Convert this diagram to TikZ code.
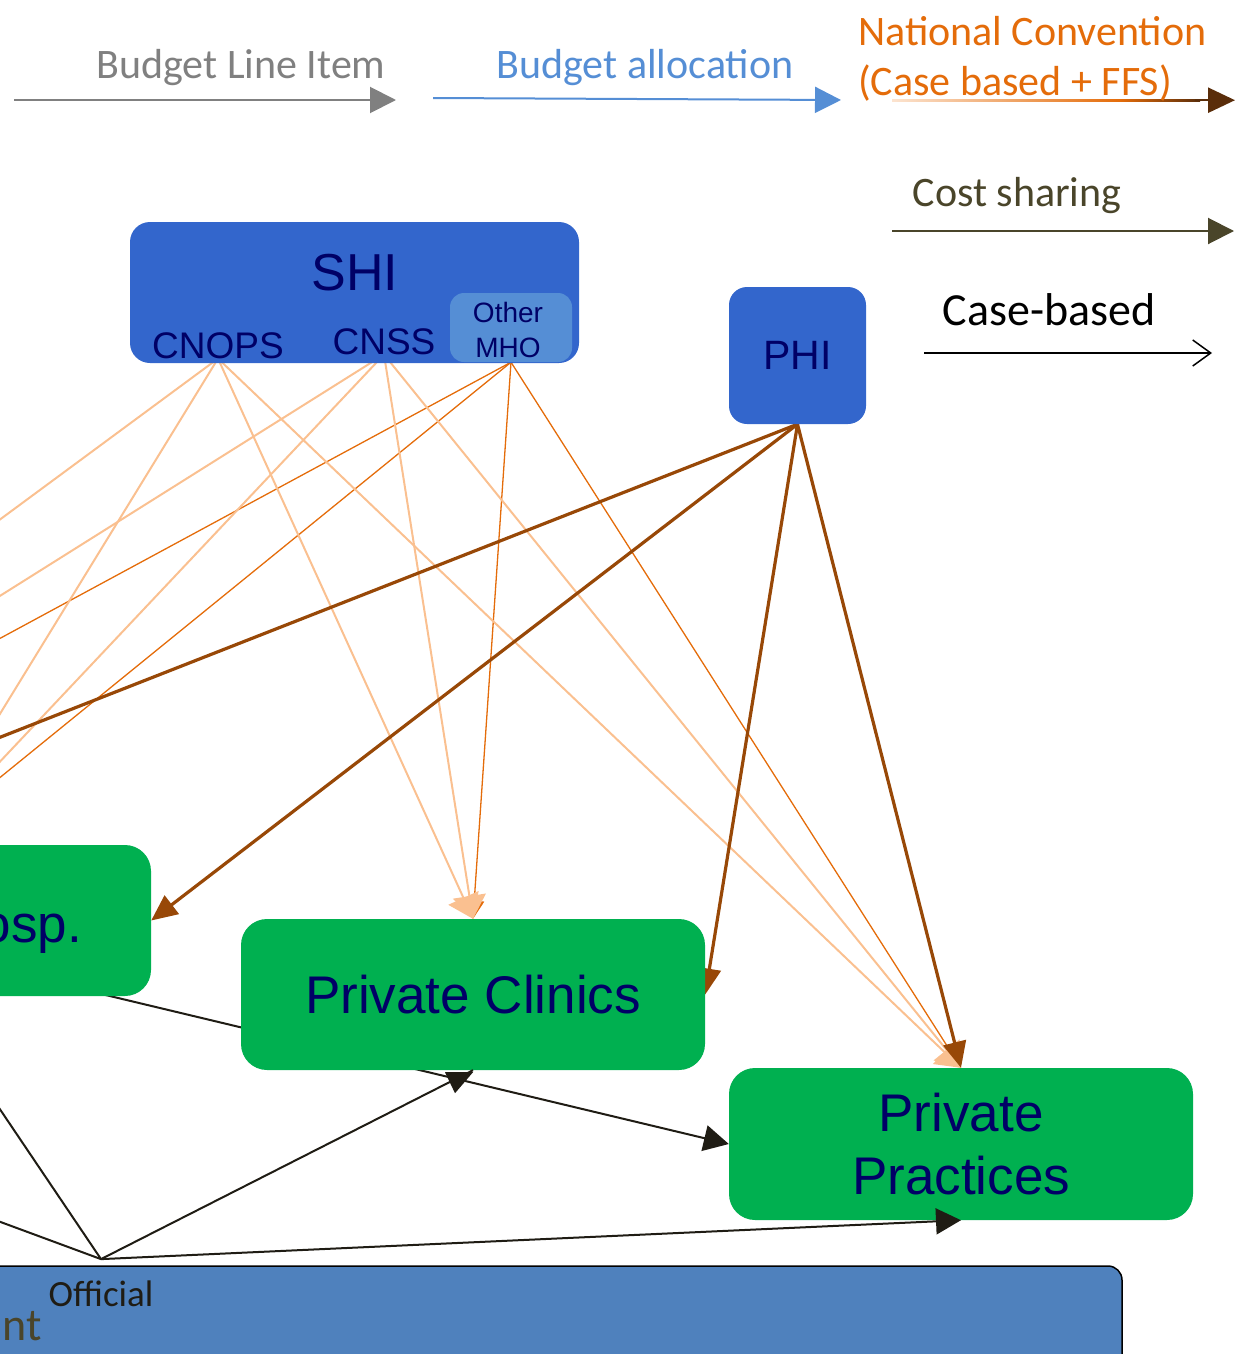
\documentclass[tikz,border=0pt]{standalone}
\usepackage{fontspec}
\setmainfont{Carlito}
\newfontfamily\arialfont{Liberation Sans}
\usetikzlibrary{arrows.meta,backgrounds}

\definecolor{shiblue}{HTML}{3366CC}
\definecolor{mhoblue}{HTML}{558ED5}
\definecolor{navytext}{HTML}{000066}
\definecolor{provgreen}{HTML}{00B050}
\definecolor{govblue}{HTML}{4F81BD}
\definecolor{peach}{HTML}{FAC090}
\definecolor{peachlight}{HTML}{FCE4D0}
\definecolor{convorange}{HTML}{E46C0A}
\definecolor{phibrown}{HTML}{984807}
\definecolor{darkbrown}{HTML}{5A2D0A}
\definecolor{olivetext}{HTML}{4A452A}
\definecolor{legendgray}{HTML}{808080}
\definecolor{legendblue}{HTML}{558ED5}
\definecolor{inkblack}{HTML}{1F1C14}

\tikzset{
  payer/.style={fill=shiblue, rounded corners=20pt, inner sep=0pt},
  provider/.style={fill=provgreen, rounded corners=26pt, inner sep=0pt,
    text=navytext, font=\arialfont\fontsize{53}{63}\selectfont, align=center},
  arialtxt/.style={text=navytext, inner sep=0pt, font=\arialfont\fontsize{#1}{#1}\selectfont},
  calibritxt/.style={inner sep=0pt, font=\fontsize{#1}{#1}\selectfont},
  shiline/.style={peach, line width=2pt},
  mholine/.style={convorange, line width=1.3pt},
  philine/.style={phibrown, line width=3.2pt},
  inkline/.style={inkblack, line width=2pt},
  shitip/.style={-{Triangle[length=23pt,width=33pt]}},
  mhotip/.style={-{Triangle[length=18pt,width=20pt]}},
  phitip/.style={-{Triangle[length=26pt,width=23pt]}},
  inktip/.style={-{Triangle[length=25pt,width=26pt]}},
}

\begin{document}
\begin{tikzpicture}[x=1pt,y=-1pt]
\useasboundingbox (0,0) rectangle (1235,1354);

% ---------- legend ----------
\coordinate (lgA1) at (14,100);  \coordinate (lgA2) at (396,100);
\draw[legendgray, line width=2pt, -{Triangle[length=26pt,width=26pt]}] (lgA1) -- (lgA2);
\node[calibritxt=42, text=legendgray, anchor=base] (lgA) at (241,78) {Budget Line Item};

\coordinate (lgB1) at (433,98);  \coordinate (lgB2) at (841,100);
\draw[legendblue, line width=2pt, -{Triangle[length=26pt,width=26pt]}] (lgB1) -- (lgB2);
\node[calibritxt=42, text=legendblue, anchor=base] (lgB) at (645,78) {Budget allocation};

\shade[left color=peachlight, right color=convorange] (892,99) rectangle (1120,101.5);
\shade[left color=convorange, right color=darkbrown] (1120,99) rectangle (1200,101.5);
\coordinate (lgC1) at (1195,100.2); \coordinate (lgC2) at (1235,100.2);
\draw[darkbrown, line width=2.5pt, -{Triangle[length=27pt,width=25pt]}] (lgC1) -- (lgC2);
\node[calibritxt=42, text=convorange, anchor=north west, align=left,
      font=\fontsize{42}{50}\selectfont] (lgC) at (858,16) {National Convention\\(Case based + FFS)};

\coordinate (lgD1) at (892,231); \coordinate (lgD2) at (1234,231);
\draw[olivetext, line width=2pt, -{Triangle[length=26pt,width=26pt]}] (lgD1) -- (lgD2);
\node[calibritxt=42, text=olivetext, anchor=base] (lgD) at (1017,206) {Cost sharing};

\coordinate (lgE1) at (924,353); \coordinate (lgE2) at (1212,353);
\draw[black, line width=1.5pt, -{Straight Barb[length=18pt,width=26pt]}] (lgE1) -- (lgE2);
\node[calibritxt=46, text=black, anchor=base] (lgE) at (1049,325) {Case-based};

% ---------- payers ----------
\node[payer, minimum width=449pt, minimum height=141pt] (shi) at (354.5,292.5) {};
\node[fill=mhoblue, rounded corners=14pt, minimum width=122pt, minimum height=69pt, inner sep=0pt] (mhobox) at (511,327.5) {};
\node[arialtxt=52, anchor=base] (shititle) at (355,290) {SHI};
\node[arialtxt=37, anchor=base] (cnops) at (218,358) {CNOPS};
\node[arialtxt=37, anchor=base] (cnss) at (384,354) {CNSS};
\node[arialtxt=28, align=center, font=\arialfont\fontsize{28}{35}\selectfont] (mho) at (508,329.5) {Other\\MHO};

\node[payer, rounded corners=18pt, minimum width=137pt, minimum height=137pt, arialtxt=41] (phi) at (797.5,355.5) {PHI};

% ---------- providers ----------
\node[provider, minimum width=714pt, minimum height=151pt] (hosp) at (-206,920.5) {};
\node[arialtxt=53, anchor=base east] (hosplabel) at (82,942) {osp.};
\node[provider, minimum width=464pt, minimum height=151pt] (clinics) at (473,994.5) {Private Clinics};
\node[provider, minimum width=464pt, minimum height=152pt] (practices) at (961,1144) {Private\\Practices};

% ---------- government ----------
\node[fill=govblue, draw=black, line width=1.5pt, rounded corners=14pt,
      minimum width=1200pt, minimum height=140pt, inner sep=0pt] (gov) at (522,1336) {};
\node[calibritxt=37, text=inkblack, anchor=base, inner ysep=21pt] (official) at (101,1306) {Official};
\node[calibritxt=46, text=olivetext, anchor=base east] (govlabel) at (42,1340) {nt};

% ---------- flows behind the boxes ----------
\begin{scope}[on background layer]
  \coordinate (wCnopsA) at (-40,549);
  \coordinate (wCnopsB) at (-40,779);
  \coordinate (wCnssA)  at (-40,621);
  \coordinate (wCnssB)  at (-40,804);
  \coordinate (wMhoA)   at (-40,660);
  \coordinate (wMhoB)   at (-40,810);
  \coordinate (wPhi)    at (-40,753);

  % other mutual health organisations
  \draw[mholine] (mhobox.south) -- (wMhoA);
  \draw[mholine] (mhobox.south) -- (wMhoB);
  \draw[mholine, mhotip] (mhobox.south) -- (clinics.north);
  \draw[mholine, mhotip] (mhobox.south) -- (practices.north);

  % SHI funds
  \draw[shiline] (cnops.south) -- (wCnopsA);
  \draw[shiline] (cnops.south) -- (wCnopsB);
  \draw[shiline, shitip] (cnops.south) -- (clinics.north);
  \draw[shiline, shitip] (cnops.south) -- (practices.north);
  \draw[shiline] (cnss.south) -- (wCnssA);
  \draw[shiline] (cnss.south) -- (wCnssB);
  \draw[shiline, shitip] (cnss.south) -- (clinics.north);
  \draw[shiline, shitip] (cnss.south) -- (practices.north);

  % private health insurance
  \draw[philine] (phi.south) -- (wPhi);
  \draw[philine, phitip] (phi.south) -- (hosp.east);
  \draw[philine, phitip] (phi.south) -- (clinics.east);
  \draw[philine, phitip] (phi.south) -- (practices.north);

  % cost sharing passing behind the clinics
  \draw[inkline, inktip] (hosp.center) -- (practices.west);
\end{scope}

% ---------- cost sharing from the official side ----------
\coordinate (wOffA) at (-40,1207);
\coordinate (wOffB) at (-40,1050);
\draw[inkline] (official.north) -- (wOffA);
\draw[inkline] (official.north) -- (wOffB);
\draw[inkline] (official.north) -- (clinics.south);
\fill[inkblack] (clinics.south) ++(-28,2) -- ++(28,0) -- ++(-18,21) -- cycle;
\draw[inkline, inktip] (official.north) -- (practices.south);
\end{tikzpicture}
\end{document}
